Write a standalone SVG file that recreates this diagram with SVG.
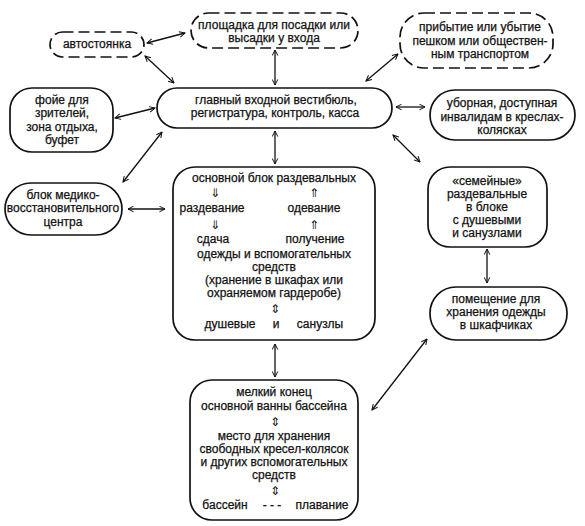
<svg xmlns="http://www.w3.org/2000/svg" width="585" height="526" viewBox="0 0 585 526">
<defs>
<style>
.box{fill:#fff;stroke:#111;stroke-width:1.7}
.dash{stroke-dasharray:11 5}
text{font-family:"Liberation Sans",Arial,sans-serif;font-size:12px;fill:#111;stroke:#111;stroke-width:0.25;text-anchor:middle}
text.ar{font-family:"DejaVu Sans",sans-serif;font-size:12px;stroke-width:0}
.con line{stroke:#111;stroke-width:1.3;marker-start:url(#ah);marker-end:url(#ah)}
</style>
<marker id="ah" viewBox="0 0 10 10" refX="9" refY="5" markerWidth="7" markerHeight="7" markerUnits="userSpaceOnUse" orient="auto-start-reverse">
<path d="M1,1 L9,5 L1,9" fill="none" stroke="#111" stroke-width="1.4"/>
</marker>
</defs>
<rect width="585" height="526" fill="#fff"/>
<g id="connectors" class="con">
<line x1="147" y1="43" x2="185" y2="33"/>
<line x1="145" y1="56" x2="174" y2="83"/>
<line x1="275" y1="50" x2="275" y2="85"/>
<line x1="398" y1="54" x2="366" y2="81"/>
<line x1="396" y1="107" x2="425" y2="107"/>
<line x1="393" y1="135" x2="420" y2="162"/>
<line x1="115" y1="118" x2="155" y2="108"/>
<line x1="123" y1="182" x2="162" y2="132"/>
<line x1="128" y1="209" x2="165" y2="209"/>
<line x1="275" y1="131" x2="275" y2="164"/>
<line x1="487" y1="249" x2="487" y2="283"/>
<line x1="275" y1="344" x2="275" y2="377"/>
<line x1="372" y1="410" x2="427" y2="339"/>
</g>
<g id="avtostoyanka">
<rect class="box dash" x="50" y="32" width="94" height="25" rx="12.5"/>
<text x="97" y="48">автостоянка</text>
</g>
<g id="ploshchadka">
<rect class="box dash" x="191" y="13" width="167" height="35" rx="17.5"/>
<text x="274" y="29">площадка для посадки или</text>
<text x="274" y="42">высадки у входа</text>
</g>
<g id="pribytie">
<rect class="box dash" x="400" y="13" width="153" height="55" rx="24"/>
<text x="480" y="31">прибытие или убытие</text>
<text x="480" y="45">пешком или обществен-</text>
<text x="480" y="58">ным транспортом</text>
</g>
<g id="vestibyul">
<rect class="box" x="157" y="88" width="235" height="40" rx="20"/>
<text x="276" y="104">главный входной вестибюль,</text>
<text x="275" y="117">регистратура, контроль, касса</text>
</g>
<g id="foye">
<rect class="box" x="10" y="88" width="103" height="64" rx="22"/>
<text x="62" y="104">фойе для</text>
<text x="62" y="117">зрителей,</text>
<text x="62" y="131">зона отдыха,</text>
<text x="62" y="144">буфет</text>
</g>
<g id="ubornaya">
<rect class="box" x="430" y="90" width="145" height="50" rx="25"/>
<text x="502" y="107">уборная, доступная</text>
<text x="502" y="121">инвалидам в креслах-</text>
<text x="502" y="134">колясках</text>
</g>
<g id="medblok">
<rect class="box" x="5" y="183" width="117" height="52" rx="26"/>
<text x="63" y="199">блок медико-</text>
<text x="63" y="212">восстановительного</text>
<text x="63" y="226">центра</text>
</g>
<g id="osnovnoy">
<rect class="box" x="173" y="167" width="202" height="173" rx="22"/>
<text x="274" y="182">основной блок раздевальных</text>
<text class="ar" x="215" y="197">⇓</text>
<text class="ar" x="314" y="197">⇑</text>
<text x="212" y="212">раздевание</text>
<text x="314" y="212">одевание</text>
<text class="ar" x="215" y="229">⇓</text>
<text class="ar" x="314" y="229">⇑</text>
<text x="213" y="243">сдача</text>
<text x="315" y="243">получение</text>
<text x="274" y="258">одежды и вспомогательных</text>
<text x="274" y="271">средств</text>
<text x="274" y="284">(хранение в шкафах или</text>
<text x="274" y="297">охраняемом гардеробе)</text>
<text class="ar" x="275" y="313">⇕</text>
<text x="230" y="328">душевые</text>
<text x="276" y="328">и</text>
<text x="320" y="328">санузлы</text>
</g>
<g id="semeynye">
<rect class="box" x="428" y="167" width="119" height="80" rx="22"/>
<text x="487" y="185">«семейные»</text>
<text x="487" y="198">раздевальные</text>
<text x="487" y="211">в блоке</text>
<text x="487" y="224">с душевыми</text>
<text x="487" y="237">и санузлами</text>
</g>
<g id="pomeshchenie">
<rect class="box" x="430" y="287" width="137" height="53" rx="26"/>
<text x="496" y="303">помещение для</text>
<text x="496" y="316">хранения одежды</text>
<text x="496" y="329">в шкафчиках</text>
</g>
<g id="melkiy">
<rect class="box" x="190" y="380" width="168" height="140" rx="22"/>
<text x="274" y="396">мелкий конец</text>
<text x="274" y="410">основной ванны бассейна</text>
<text class="ar" x="275" y="426">⇕</text>
<text x="274" y="440">место для хранения</text>
<text x="274" y="453">свободных кресел-колясок</text>
<text x="274" y="466">и других вспомогательных</text>
<text x="274" y="479">средств</text>
<text class="ar" x="275" y="495">⇕</text>
<text x="225" y="509">бассейн</text>
<text x="272" y="509">- - -</text>
<text x="322" y="509">плавание</text>
</g>
</svg>
